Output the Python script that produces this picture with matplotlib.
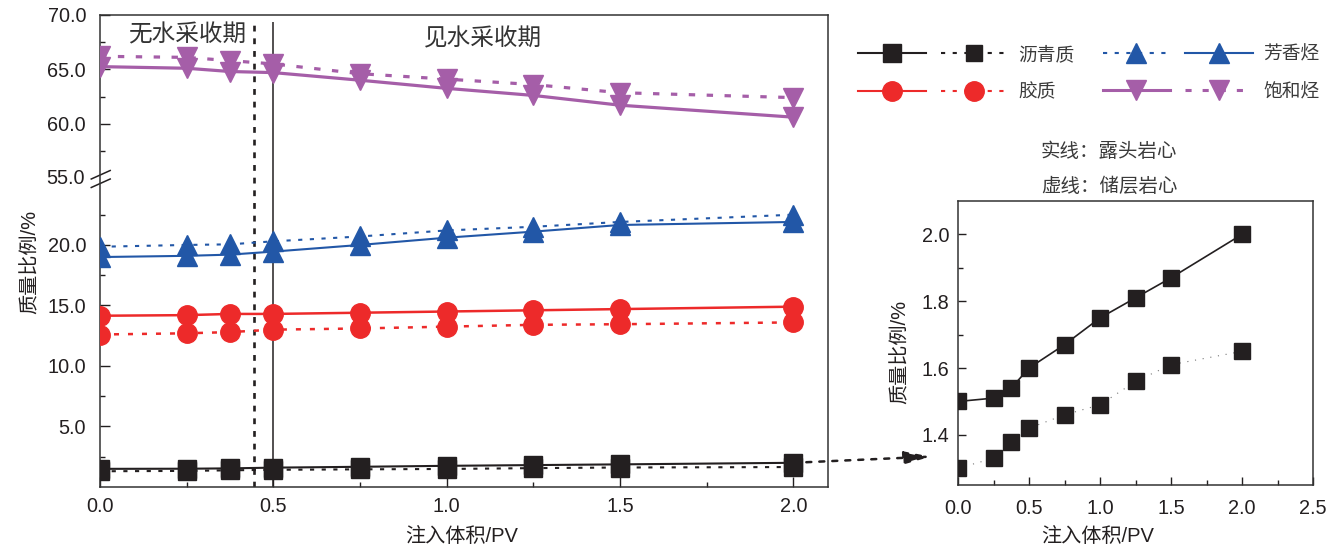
import numpy as np
import matplotlib
matplotlib.use("Agg")
import matplotlib.pyplot as plt
from matplotlib.lines import Line2D
from matplotlib.legend_handler import HandlerTuple
from matplotlib.patches import ConnectionPatch
from matplotlib import transforms

plt.rcParams['font.family'] = ['Liberation Sans', 'Noto Sans CJK SC']
plt.rcParams['axes.unicode_minus'] = False

# ---- data: mass fraction (%) vs injected volume (PV) ----
pv = [0.0, 0.25, 0.375, 0.5, 0.75, 1.0, 1.25, 1.5, 2.0]

asph_outcrop = [1.50, 1.51, 1.54, 1.60, 1.67, 1.75, 1.81, 1.87, 2.00]
asph_reservoir = [1.30, 1.33, 1.38, 1.42, 1.46, 1.49, 1.56, 1.61, 1.65]
resin_outcrop = [14.15, 14.2, 14.3, 14.3, 14.4, 14.5, 14.6, 14.7, 14.9]
resin_reservoir = [12.6, 12.7, 12.8, 13.0, 13.1, 13.25, 13.4, 13.45, 13.6]
arom_outcrop = [19.0, 19.1, 19.2, 19.45, 20.0, 20.6, 21.1, 21.65, 21.9]
arom_reservoir = [19.85, 20.0, 20.05, 20.3, 20.7, 21.2, 21.5, 21.9, 22.5]
sat_outcrop = [65.25, 65.1, 64.8, 64.7, 64.0, 63.25, 62.6, 61.7, 60.6]
sat_reservoir = [66.2, 66.1, 65.8, 65.5, 64.6, 64.1, 63.6, 62.85, 62.4]

x_ticks = [0.0, 0.5, 1.0, 1.5, 2.0]
x_ticklabels = ['0.0', '0.5', '1.0', '1.5', '2.0']
y_ticks = [5, 10, 15, 20, 60, 65, 70]
y_ticklabels = ['5.0', '10.0', '15.0', '20.0', '60.0', '65.0', '70.0']
y_minor = [2.5, 7.5, 12.5, 17.5, 22.5, 57.5, 62.5, 67.5]

in_x_ticks = [0.0, 0.5, 1.0, 1.5, 2.0, 2.5]
in_x_ticklabels = ['0.0', '0.5', '1.0', '1.5', '2.0', '2.5']
in_y_ticks = [1.4, 1.6, 1.8, 2.0]
in_y_ticklabels = ['1.4', '1.6', '1.8', '2.0']

labels = ['沥青质', '胶质', '芳香烃', '饱和烃']
phase_labels = ['无水采收期', '见水采收期']
water_breakthrough_pv = 0.445

C_BLACK = '#231f20'
C_RED = '#ed2a2a'
C_BLUE = '#2257a7'
C_PURPLE = '#a55ea8'
C_TEXT = '#231f20'
TICK_FS = 14.3

# ---- broken y axis: 0..25.5 linear, then jump to 55..70 ----
LO, HI, K, EPS = 25.5, 55.0, 0.898, 1e-3
MID = LO + (HI - LO) * EPS


def fwd(y):
    y = np.asarray(y, dtype=float)
    return np.where(y <= LO, y,
                    np.where(y < HI, LO + (y - LO) * EPS, MID + (y - HI) * K))


def inv(t):
    t = np.asarray(t, dtype=float)
    return np.where(t <= LO, t,
                    np.where(t < MID, LO + (t - LO) / EPS, HI + (t - MID) / K))


W, H = 1338, 551
fig = plt.figure(figsize=(W / 100, H / 100), dpi=100)
ax = fig.add_axes([100 / W, 1 - 487 / H, 728 / W, 472 / H])
axin = fig.add_axes([958 / W, 1 - 485 / H, 355 / W, 284 / H])

ax.set_yscale('function', functions=(fwd, inv))

dash_s = (0, (2.0, 3.6))

series = [
    (asph_outcrop, asph_reservoir, C_BLACK, 's', 13, 1.5),
    (resin_outcrop, resin_reservoir, C_RED, 'o', 14, 1.8),
    (arom_outcrop, arom_reservoir, C_BLUE, '^', 15, 1.5),
    (sat_outcrop, sat_reservoir, C_PURPLE, 'v', 15, 2.3),
]
for solid, dashed, c, m, ms, lw in series:
    ax.plot(pv, dashed, color=c, lw=lw, ls=dash_s, marker=m, ms=ms,
            mec=c, mfc=c, zorder=3)
    ax.plot(pv, solid, color=c, lw=lw, ls='-', marker=m, ms=ms,
            mec=c, mfc=c, zorder=4)

ax.set_xlim(0, 2.1)
ax.set_ylim(0, 70)

# phase separators
ax.vlines(water_breakthrough_pv, 0, 69.4, colors=C_BLACK, lw=1.9,
          linestyles=[(0, (2.2, 2.6))], zorder=2)
ax.vlines(0.5, 0, 69.4, colors=C_BLACK, lw=1.1, zorder=2)
ax.text(0.25, 68.1, phase_labels[0], fontsize=17, color='#333333',
        ha='center', va='center')
ax.text(1.105, 67.75, phase_labels[1], fontsize=17, color='#333333',
        ha='center', va='center')

ax.set_xticks(x_ticks)
ax.set_xticklabels(x_ticklabels)
ax.set_xticks([0.25, 0.75, 1.25, 1.75], minor=True)
ax.set_yticks(y_ticks)
ax.set_yticklabels(y_ticklabels)
ax.set_yticks(y_minor, minor=True)
ax.yaxis.set_minor_formatter(plt.NullFormatter())
ax.xaxis.set_minor_formatter(plt.NullFormatter())
ax.tick_params(axis='both', which='major', direction='in', length=7, width=1.0,
               labelsize=TICK_FS, colors=C_BLACK, labelcolor=C_TEXT)
ax.tick_params(axis='both', which='minor', direction='in', length=3.8,
               width=1.0, colors=C_BLACK)
ax.tick_params(axis='y', which='major', pad=10)
ax.tick_params(axis='x', which='major', pad=7)
for sp in ax.spines.values():
    sp.set_linewidth(1.1)
    sp.set_color('#333333')

# break marks and the 55.0 label on the left spine
trans_b = transforms.blended_transform_factory(ax.transAxes, ax.transData)
ax.text(-0.0206, 55, '55.0', transform=trans_b, ha='right', va='center',
        fontsize=TICK_FS, color=C_TEXT)
brk_y = (487 - 179) / 472
for dy in (0.009, -0.009):
    ax.plot([-0.012, 0.014], [brk_y + dy - 0.009, brk_y + dy + 0.009],
            transform=ax.transAxes, color=C_BLACK, lw=1.1, clip_on=False)

# ---- inset: asphaltene detail ----
axin.plot(pv, asph_outcrop, color=C_BLACK, lw=1.2, ls='-', marker='s', ms=11,
          mec=C_BLACK, mfc=C_BLACK, zorder=3)
axin.plot(pv, asph_reservoir, color='#777777', lw=0.8, ls=(0, (1, 6)),
          marker='s', ms=11, mec=C_BLACK, mfc=C_BLACK, zorder=3)
axin.set_xlim(0, 2.5)
axin.set_ylim(1.25, 2.1)
axin.set_xticks(in_x_ticks)
axin.set_xticklabels(in_x_ticklabels)
axin.set_xticks([0.25, 0.75, 1.25, 1.75, 2.25], minor=True)
axin.set_yticks(in_y_ticks)
axin.set_yticklabels(in_y_ticklabels)
axin.set_yticks([1.3, 1.5, 1.7, 1.9], minor=True)
axin.tick_params(axis='both', which='major', direction='in', length=6,
                 width=1.0, labelsize=TICK_FS, colors=C_BLACK, labelcolor=C_TEXT)
axin.tick_params(axis='both', which='minor', direction='in', length=3.5,
                 width=1.0, colors=C_BLACK)
axin.tick_params(axis='y', which='major', pad=6)
axin.tick_params(axis='x', which='major', pad=10)
for sp in axin.spines.values():
    sp.set_linewidth(1.1)
    sp.set_color('#333333')

# axis titles
fig.text(30 / W, 1 - 262 / H, '质量比例/%', rotation=90, fontsize=14.5,
         color=C_TEXT, ha='center', va='center')
fig.text(462 / W, 1 - 537 / H, '注入体积/PV', fontsize=14.5, color=C_TEXT,
         ha='center', va='center')
fig.text(900 / W, 1 - 352 / H, '质量比例/%', rotation=90, fontsize=14.5,
         color=C_TEXT, ha='center', va='center')
fig.text(1098 / W, 1 - 537 / H, '注入体积/PV', fontsize=14.5, color=C_TEXT,
         ha='center', va='center')

# dotted arrow from the main plot to the inset
con = ConnectionPatch(xyA=(2.0, asph_outcrop[-1]), coordsA=ax.transData,
                      xyB=(-0.19, 1.335), coordsB=axin.transData,
                      arrowstyle='-|>,head_length=1.6,head_width=0.38',
                      mutation_scale=10, color=C_BLACK, lw=1.8,
                      ls=(0, (2.0, 3.2)), zorder=5)
fig.add_artist(con)

# legend: solid = outcrop core, dashed = reservoir core
def mk(c, m, ms, ls, lw):
    return Line2D([], [], color=c, marker=m, ms=ms, ls=ls, lw=lw, mec=c, mfc=c)

handles = [
    (mk(C_BLACK, 's', 13, '-', 1.5), mk(C_BLACK, 's', 11, dash_s, 1.5)),
    (mk(C_RED, 'o', 14, '-', 1.5), mk(C_RED, 'o', 14, dash_s, 1.5)),
    (mk(C_BLUE, '^', 15, dash_s, 1.5), mk(C_BLUE, '^', 15, '-', 1.5)),
    (mk(C_PURPLE, 'v', 15, '-', 2.2), mk(C_PURPLE, 'v', 15, dash_s, 2.2)),
]
leg = fig.legend(handles=handles, labels=labels, ncol=2,
                 handler_map={tuple: HandlerTuple(ndivide=None, pad=0.8)},
                 handlelength=8.0, handletextpad=0.55, columnspacing=1.5,
                 labelspacing=1.05, frameon=False, fontsize=13.5,
                 loc='upper left', bbox_to_anchor=(858 / W, 1 - 46 / H),
                 borderaxespad=0, borderpad=0, numpoints=1)
for t in leg.get_texts():
    t.set_color('#3a3a3a')

fig.text(1109 / W, 1 - 152 / H, '实线：露头岩心', fontsize=14, color='#3a3a3a',
         ha='center', va='center')
fig.text(1109 / W, 1 - 187 / H, '虚线：储层岩心', fontsize=14, color='#3a3a3a',
         ha='center', va='center')

fig.savefig('out.png', dpi=100)
